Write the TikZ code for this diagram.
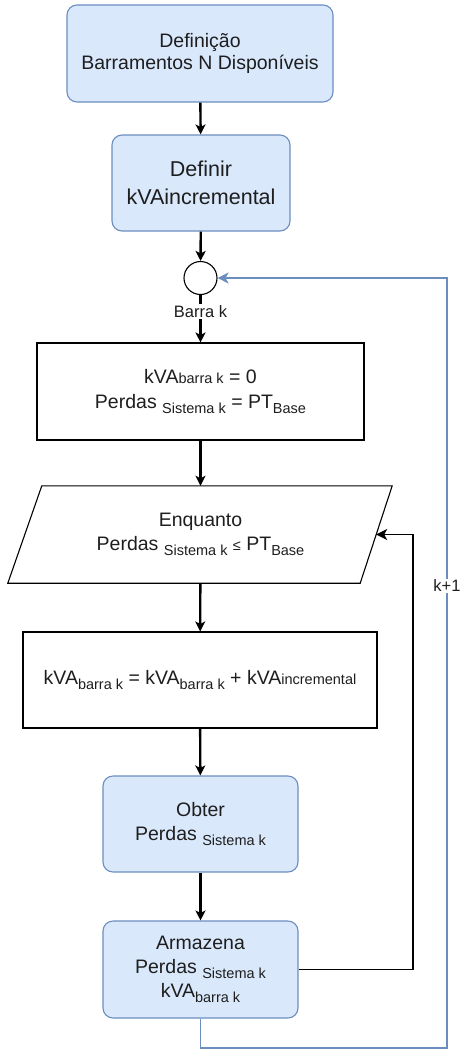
\documentclass[tikz,border=0pt]{standalone}
\usepackage{fontspec}
\setmainfont{Liberation Sans}
\usetikzlibrary{arrows.meta,shapes.geometric}

% lowered subscript and small inline text
\newcommand{\lowsub}[1]{\raisebox{-5pt}{\fontsize{14.5}{14.5}\selectfont #1}}
\newcommand{\smalltxt}[1]{{\fontsize{14.5}{14.5}\selectfont #1}}

\definecolor{fillblue}{HTML}{DAE8FC}
\definecolor{edgeblue}{HTML}{6C8EBF}
\definecolor{ink}{HTML}{1E1E1E}

\begin{document}
\begin{tikzpicture}[x=1pt,y=-1pt,
  every node/.style={font=\fontsize{19.5}{22}\selectfont, text=ink, align=center, inner sep=0pt},
  bluebox/.style={rectangle, rounded corners=10pt, draw=edgeblue, fill=fillblue, line width=1.1pt},
  plainbox/.style={rectangle, draw=black, fill=white, line width=1.1pt},
  flow/.style={-{Stealth[length=10pt,width=10pt,inset=2.5pt]}, line width=2.4pt, black},
  loopline/.style={-{Stealth[length=11pt,width=11pt,inset=3pt]}, line width=1.4pt, black},
  backline/.style={-{Stealth[length=11pt,width=11pt,inset=3pt]}, line width=1.3pt, edgeblue},
  tag/.style={fill=white, inner sep=1.5pt, font=\fontsize{16.5}{18}\selectfont}
]
\useasboundingbox (0,0) rectangle (465,1050);

% process blocks
\node[bluebox, minimum width=266pt, minimum height=97pt] (def) at (200,53.5)
  {Definição\\Barramentos N Disponíveis};
\node[bluebox, minimum width=178pt, minimum height=96pt,
      font=\fontsize{21.5}{28}\selectfont] (inc) at (201,183)
  {Definir\\kVAincremental};
\node[circle, draw=black, fill=white, line width=1.1pt, minimum size=33pt] (bar) at (200.5,278) {};
\node[plainbox, minimum width=327pt, minimum height=97pt] (ini) at (200.5,391.5)
  {kVA\smalltxt{barra k} = 0\\[3pt]Perdas \lowsub{Sistema k} = PT\lowsub{Base}};

% while test: text node plus a slanted outline drawn from its corners
\node[minimum width=351pt, minimum height=97pt] (enq) at (200.5,534.5)
  {Enquanto\\[2pt]Perdas \lowsub{Sistema k} \smalltxt{≤} PT\lowsub{Base}};
\draw[line width=1.1pt, black]
  ([xshift=17pt]enq.north west) -- ([xshift=16pt]enq.north east)
  -- ([xshift=-16pt]enq.south east) -- ([xshift=-17pt]enq.south west) -- cycle;

\node[plainbox, minimum width=354pt, minimum height=96pt] (som) at (200,680)
  {kVA\lowsub{barra k} = kVA\lowsub{barra k} + kVA\smalltxt{incremental}};
\node[bluebox, minimum width=195pt, minimum height=96pt] (obt) at (200.5,824)
  {Obter\\[2pt]Perdas \lowsub{Sistema k}};
\node[bluebox, minimum width=195pt, minimum height=97pt] (arm) at (200.5,969.5)
  {Armazena\\[2pt]Perdas \lowsub{Sistema k}\\[2pt]kVA\lowsub{barra k}};

% main flow
\draw[flow] (def) -- (inc);
\draw[flow] (inc) -- (bar);
\draw[flow] (bar) -- node[tag, pos=0.35] (lblk) {Barra k} (ini);
\draw[flow] (ini) -- (enq);
\draw[flow] (enq) -- (som);
\draw[flow] (som) -- (obt);
\draw[flow] (obt) -- (arm);

% inner loop back to the while test
\coordinate (innerx) at (413,0);
\draw[loopline] (arm.east) -- (arm.east -| innerx) -- (innerx |- enq.east) -- (enq.east);

% outer loop to the next bus
\coordinate (outer) at (447,1048);
\draw[backline] (arm.south) -- (arm.south |- outer) -- (outer)
  -- node[tag, pos=0.6] (lblnext) {k+1} (outer |- bar.east) -- (bar.east);
\end{tikzpicture}
\end{document}
